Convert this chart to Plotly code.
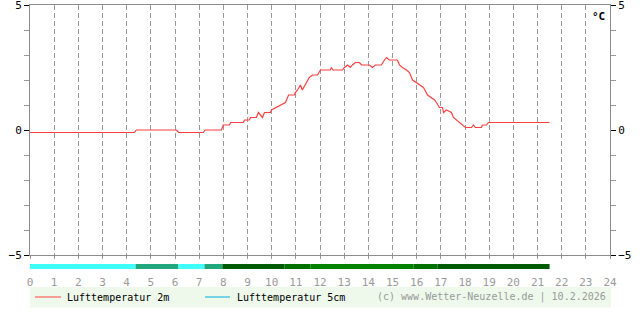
import plotly.graph_objects as go

# ---- data ----
series_names = ["Lufttemperatur 2m", "Lufttemperatur 5cm"]
series_colors = ["#FF4040", "#00AADD"]

hours_2m = [0.0, 4.32, 4.4, 6.06, 6.15, 7.17, 7.25, 7.92, 8.0, 8.25, 8.3, 8.83, 8.87, 9.08, 9.12,
            9.37, 9.45, 9.54, 9.62, 9.70, 9.95, 9.99, 10.2, 10.4, 10.57, 10.7, 10.94, 10.98, 11.07,
            11.19, 11.27, 11.44, 11.56, 11.69, 11.9, 12.02, 12.43, 12.47, 12.54, 12.93, 13.01, 13.14,
            13.26, 13.34, 13.47, 13.63, 13.72, 14.05, 14.17, 14.29, 14.54, 14.67, 14.75, 14.87, 15.2,
            15.29, 15.41, 15.58, 15.7, 15.83, 15.99, 16.11, 16.28, 16.45, 16.61, 16.74, 16.82, 16.94,
            17.07, 17.11, 17.23, 17.44, 17.52, 17.65, 17.77, 17.9, 18.02, 18.27, 18.35, 18.43, 18.68,
            18.72, 18.89, 18.97, 21.5]
temp_2m = [-0.1, -0.1, 0.0, 0.0, -0.1, -0.1, 0.0, 0.0, 0.2, 0.2, 0.3, 0.3, 0.4, 0.4, 0.5,
           0.5, 0.7, 0.6, 0.5, 0.7, 0.7, 0.8, 0.9, 1.0, 1.1, 1.4, 1.4, 1.5, 1.6,
           1.8, 1.6, 1.9, 2.1, 2.2, 2.2, 2.4, 2.4, 2.5, 2.4, 2.4, 2.5, 2.6,
           2.5, 2.6, 2.7, 2.7, 2.6, 2.6, 2.5, 2.6, 2.6, 2.8, 2.9, 2.8, 2.8,
           2.6, 2.5, 2.4, 2.3, 2.0, 1.9, 1.8, 1.7, 1.4, 1.3, 1.2, 1.1, 0.9,
           0.9, 0.7, 0.8, 0.7, 0.5, 0.4, 0.3, 0.2, 0.1, 0.1, 0.2, 0.1, 0.1,
           0.2, 0.2, 0.3, 0.3]
hours_5cm = []
temp_5cm = []

bar_start = [0.0, 4.37, 6.14, 7.22, 7.96, 10.53, 11.6, 15.87, 16.86]
bar_end = [4.37, 6.14, 7.22, 7.96, 10.53, 11.6, 15.87, 16.86, 21.5]
bar_colors = ["#40FFFF", "#20A87C", "#40FFFF", "#20A87C", "#005A00", "#007000", "#008200", "#007000", "#005A00"]

x_tick_vals = list(range(0, 25))
x_tick_text = [str(h) for h in x_tick_vals]
y_tick_vals = [-5, 0, 5]
y_tick_text = ["\u22125", "0", "5"]
unit_label = "°C"
credit = "(c) www.Wetter-Neuzelle.de | 10.2.2026"

MONO = "DejaVu Sans Mono"
GRAY = "#999999"
AXIS = "#8C8C8C"

fig = go.Figure()
fig.add_trace(go.Scatter(x=hours_2m, y=temp_2m, mode="lines", name=series_names[0],
                         line=dict(color=series_colors[0], width=1.2), showlegend=False,
                         hoverinfo="skip"))
fig.add_trace(go.Scatter(x=hours_5cm, y=temp_5cm, mode="lines", name=series_names[1],
                         line=dict(color=series_colors[1], width=1), showlegend=False,
                         yaxis="y2", hoverinfo="skip"))

shapes = []
# status bar under the axis
for s, e, c in zip(bar_start, bar_end, bar_colors):
    shapes.append(dict(type="rect", xref="x", yref="paper", x0=s, x1=e, y0=-0.056, y1=-0.036,
                       line=dict(width=0), fillcolor=c, layer="above"))
# legend background
shapes.append(dict(type="rect", xref="paper", yref="paper", x0=0, x1=1.0017, y0=-0.21, y1=-0.128,
                   line=dict(width=0), fillcolor="#EEF9EC", layer="below"))
# legend samples
leg_line_x = [(0.0086, 0.0534), (0.3017, 0.3448)]
leg_text_x = [0.0595, 0.3526]
annotations = []
for (a, b), tx, name, col in zip(leg_line_x, leg_text_x, series_names, series_colors):
    shapes.append(dict(type="line", xref="paper", yref="paper", x0=a, x1=b, y0=-0.168, y1=-0.168,
                       line=dict(color=col, width=1)))
    annotations.append(dict(xref="paper", yref="paper", x=tx, y=-0.168, text=name, showarrow=False,
                            xanchor="left", yanchor="middle", font=dict(family=MONO, size=10, color="black")))
annotations.append(dict(xref="paper", yref="paper", x=0.5948, y=-0.168, text=credit, showarrow=False,
                        xanchor="left", yanchor="middle", font=dict(family=MONO, size=10, color=GRAY)))
annotations.append(dict(xref="paper", yref="paper", x=0.981, y=0.956, text="<b>" + unit_label + "</b>",
                        showarrow=False, xanchor="center", yanchor="middle",
                        font=dict(family=MONO, size=11, color="black")))

yax_common = dict(range=[-5, 5], tickvals=y_tick_vals, ticktext=y_tick_text, ticks="outside", ticklen=5,
                  tickcolor="black", tickwidth=1, showgrid=False, zeroline=False, showline=True,
                  linecolor=AXIS, linewidth=1, fixedrange=True, ticklabeloverflow="allow",
                  automargin=False,
                  tickfont=dict(family=MONO, size=11, color="black"),
                  minor=dict(tick0=0, dtick=1, ticks="outside", ticklen=5, tickcolor=GRAY, showgrid=False))

fig.update_layout(
    width=640, height=315,
    margin=dict(l=30, r=30, t=5, b=60, autoexpand=False),
    paper_bgcolor="white", plot_bgcolor="white",
    showlegend=False,
    xaxis=dict(range=[0, 24], tickvals=x_tick_vals, ticktext=x_tick_text, showgrid=True,
               gridcolor=GRAY, griddash="5px,3px", gridwidth=1, showline=True, linecolor=AXIS,
               linewidth=1, mirror=True, ticks="outside", ticklen=3, tickcolor=GRAY,
               ticklabelstandoff=14, zeroline=False, fixedrange=True, ticklabeloverflow="allow",
               automargin=False,
               tickfont=dict(family=MONO, size=11, color=GRAY)),
    yaxis=dict(side="left", **yax_common),
    yaxis2=dict(side="right", overlaying="y", **yax_common),
    shapes=shapes,
    annotations=annotations,
)

fig.write_html("out.html")
